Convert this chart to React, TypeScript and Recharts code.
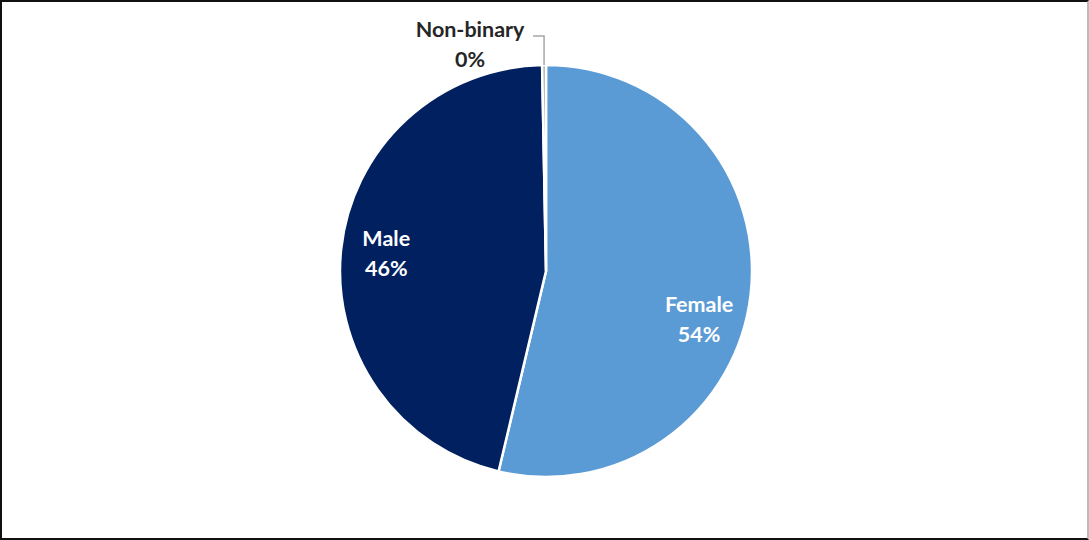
import { Pie, PieChart, Cell } from "recharts";

const categories = ["Female", "Male", "Non-binary"];
const shares = [53.7, 46.0, 0.3];
const colors = ["#5B9BD5", "#002060", "#A5A5A5"];

// Excel nudges the data labels away from the slice midpoints
const labelShift = [-11, 0, 0];

const rows = categories.map((name, i) => ({ name, value: shares[i] }));

const RAD = Math.PI / 180;
const FONT = "Lato, 'Open Sans', sans-serif";
const SIZE = 21.5;

function renderLabel(props: any) {
  const { cx, cy, midAngle, outerRadius, index, name, value } = props;
  const pct = `${Math.round(value)}%`;
  if (name === "Non-binary") {
    const x0 = cx + outerRadius * Math.cos(-midAngle * RAD);
    const y0 = cy + outerRadius * Math.sin(-midAngle * RAD);
    const y1 = y0 - 29;
    const x1 = x0 - 11;
    return (
      <g>
        <polyline
          points={`${x0},${y0} ${x0},${y1} ${x1},${y1}`}
          fill="none"
          stroke="#A6A6A6"
          strokeWidth={1.5}
        />
        <text x={x1 - 63} y={y1 + 1} textAnchor="middle" fill="#262626" fontFamily={FONT} fontWeight={700} fontSize={SIZE}>
          {name}
        </text>
        <text x={x1 - 63} y={y1 + 31} textAnchor="middle" fill="#262626" fontFamily={FONT} fontWeight={700} fontSize={SIZE}>
          {pct}
        </text>
      </g>
    );
  }
  const a = (midAngle + labelShift[index]) * RAD;
  const r = outerRadius * 0.78;
  const x = cx + r * Math.cos(-a);
  const y = cy + r * Math.sin(-a);
  return (
    <text x={x} y={y} textAnchor="middle" fill="#FFFFFF" fontFamily={FONT} fontWeight={700} fontSize={SIZE}>
      <tspan x={x} dy={-8}>{name}</tspan>
      <tspan x={x} dy={30}>{pct}</tspan>
    </text>
  );
}

export default function App() {
  return (
    <div
      style={{
        position: "absolute",
        left: 0,
        top: 0,
        width: 1089,
        height: 540,
        boxSizing: "border-box",
        borderTop: "2px solid #111",
        borderLeft: "2px solid #111",
        borderBottom: "2px solid #111",
        borderRight: "2px solid #BBB",
        background: "#fff",
      }}
    >
      <PieChart
        width={1085}
        height={536}
        margin={{ top: 0, right: 0, bottom: 0, left: 0 }}
        style={{ position: "absolute", left: 0, top: 0 }}
      >
        <Pie
          data={rows}
          dataKey="value"
          nameKey="name"
          cx={544}
          cy={269}
          outerRadius={206}
          startAngle={90}
          endAngle={-270}
          stroke="#FFFFFF"
          strokeWidth={2.5}
          label={renderLabel}
          labelLine={false}
          isAnimationActive={false}
        >
          {rows.map((r, i) => (
            <Cell key={r.name} fill={colors[i]} />
          ))}
        </Pie>
      </PieChart>
    </div>
  );
}
